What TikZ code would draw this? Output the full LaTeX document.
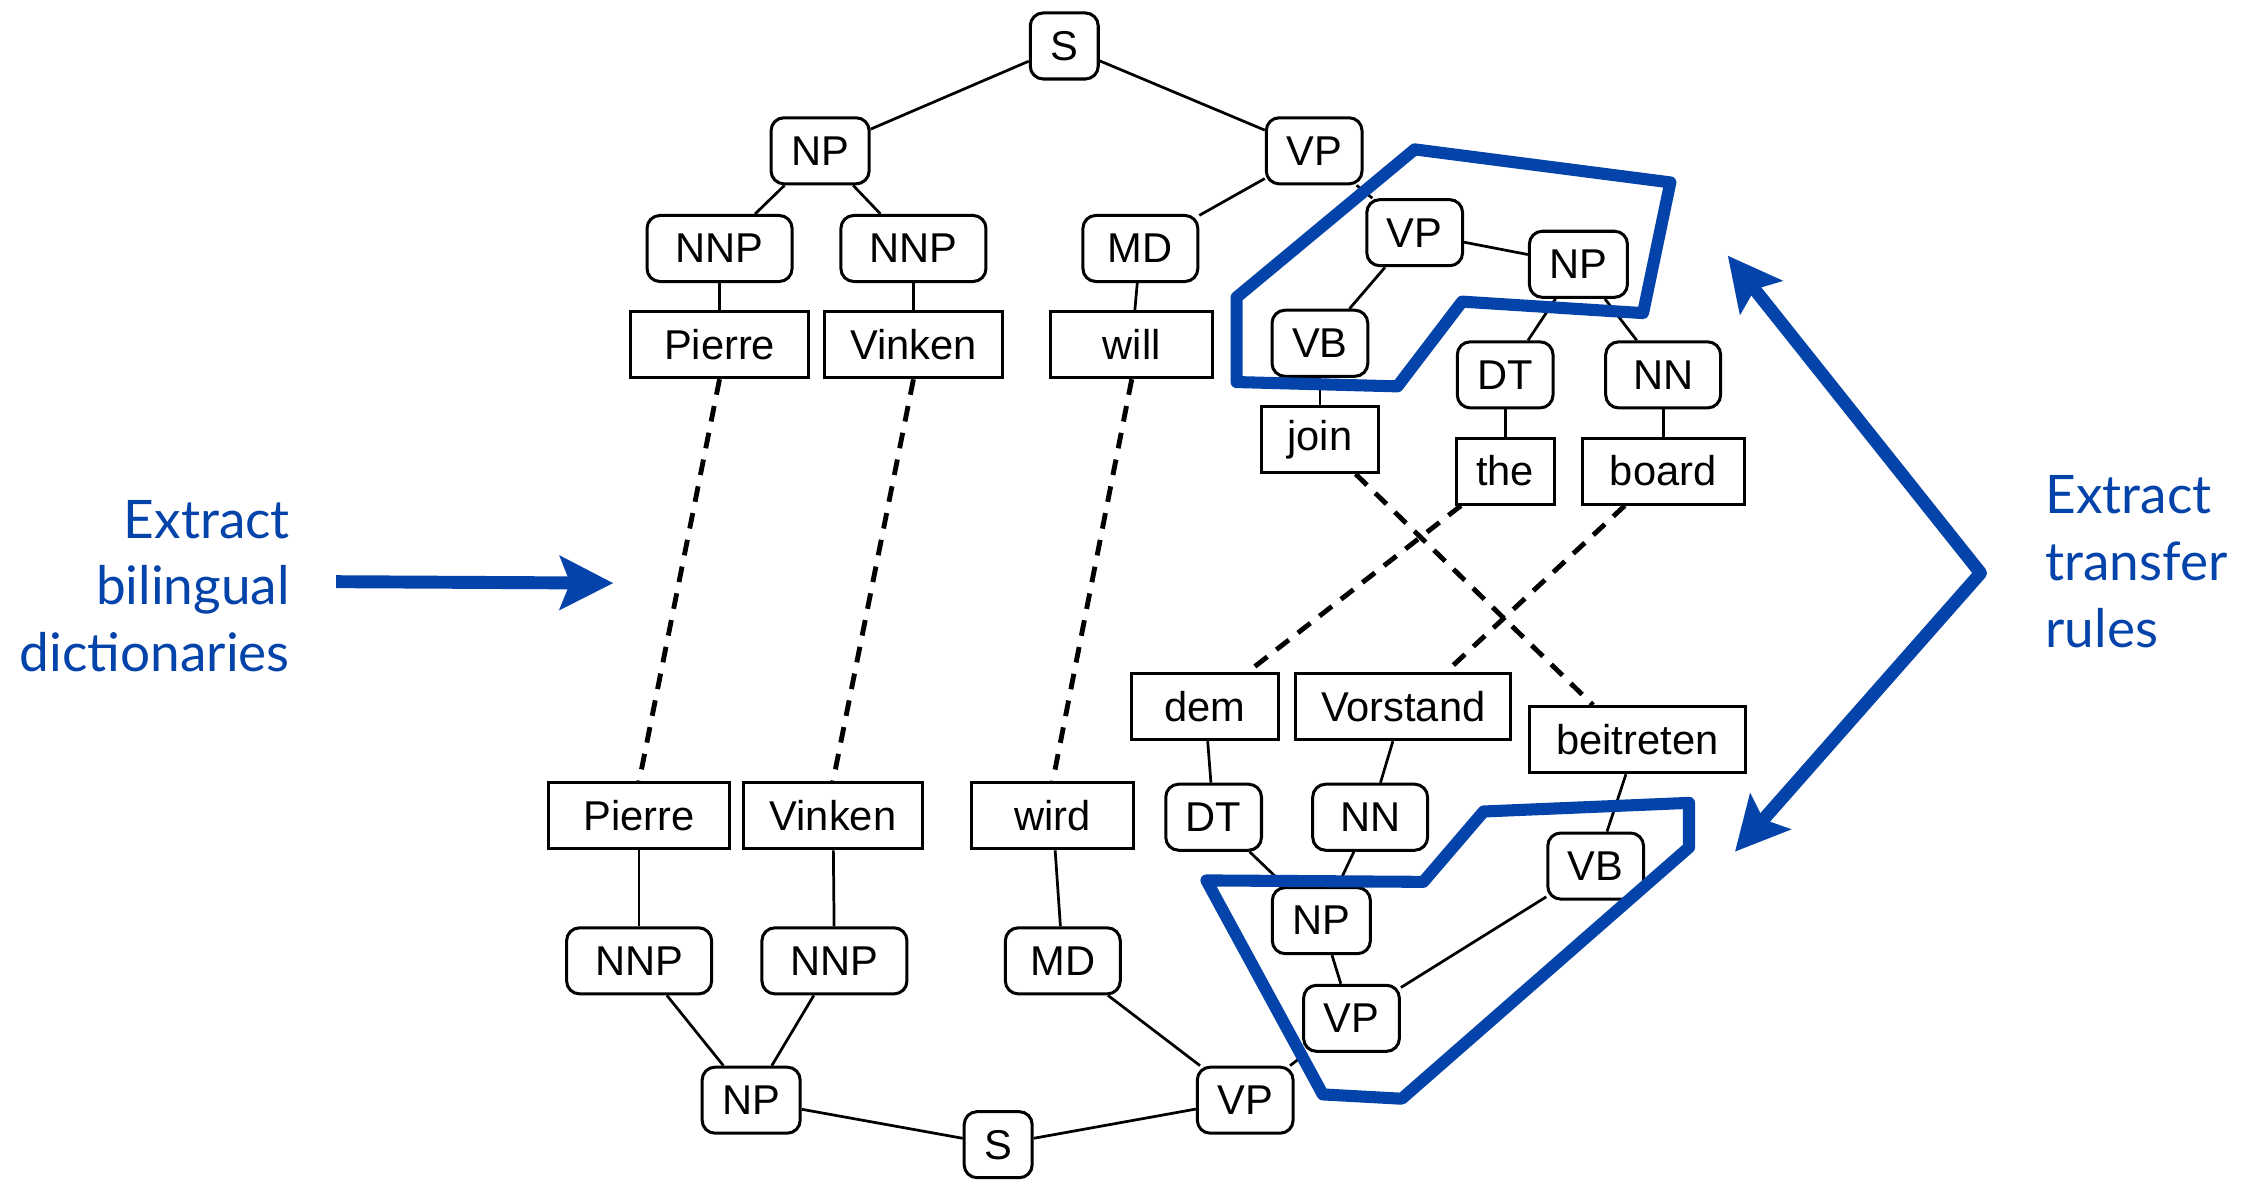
\documentclass[tikz,border=0pt]{standalone}
\usepackage{fontspec}
\setmainfont{Liberation Sans}
\newfontfamily\notefont{Lato}
\usetikzlibrary{arrows.meta}
\definecolor{ruleblue}{RGB}{3,67,170}

\tikzset{
  tag/.style={draw, rounded corners=9pt, line width=2.1pt, minimum height=46pt,
    inner xsep=14pt, font=\fontsize{29pt}{35pt}\selectfont},
  word/.style={draw, line width=2.1pt, minimum height=46pt, inner xsep=6pt,
    font=\fontsize{29pt}{35pt}\selectfont},
  branch/.style={line width=1.9pt},
  link/.style={line width=3.4pt, dash pattern=on 11pt off 8pt},
  hull/.style={ruleblue, line width=8.4pt, line join=round},
  extract/.style={ruleblue, line width=9pt, line join=round},
  note/.style={text=ruleblue, inner sep=0pt, font=\notefont\fontsize{37pt}{46.5pt}\selectfont},
  tip/.tip={Stealth[length=37pt, width=37pt, inset=7pt]},
}

\begin{document}
\begin{tikzpicture}[x=1pt, y=-1pt]
\useasboundingbox (0,0) rectangle (1568,823);

% English tree
\node[tag] (en-s) at (741,32) {S};
\node[tag] (en-np) at (571,105) {NP};
\node[tag] (en-vp) at (915,105) {VP};
\node[tag, minimum width=101pt] (en-nnp1) at (501,173) {NNP};
\node[tag, minimum width=101pt] (en-nnp2) at (636,173) {NNP};
\node[tag, minimum width=80pt] (en-md) at (794,173) {MD};
\node[tag] (en-vp2) at (985,162) {VP};
\node[tag] (en-np2) at (1099,184) {NP};
\node[tag] (en-vb) at (919,239) {VB};
\node[tag] (en-dt) at (1048,261) {DT};
\node[tag, minimum width=80pt] (en-nn) at (1158,261) {NN};
\node[word, minimum width=124pt] (en-pierre) at (501,240) {Pierre};
\node[word, minimum width=124pt] (en-vinken) at (636,240) {Vinken};
\node[word, minimum width=113pt] (en-will) at (788,240) {will};
\node[word, minimum width=81pt] (en-join) at (919,306) {join};
\node[word, minimum width=68pt] (en-the) at (1048,328) {the};
\node[word, minimum width=113pt] (en-board) at (1158,328) {board};

% German tree
\node[word, minimum width=102pt] (de-dem) at (839,492) {dem};
\node[word, minimum width=150pt] (de-vorstand) at (977,492) {Vorstand};
\node[word, minimum width=150pt] (de-beitreten) at (1140,515) {beitreten};
\node[word, minimum width=126pt] (de-pierre) at (445,568) {Pierre};
\node[word, minimum width=125pt] (de-vinken) at (580,568) {Vinken};
\node[word, minimum width=113pt] (de-wird) at (733,568) {wird};
\node[tag] (de-dt) at (845,569) {DT};
\node[tag, minimum width=80pt] (de-nn) at (954,569) {NN};
\node[tag] (de-vb) at (1111,603) {VB};
\node[tag] (de-np2) at (920,641) {NP};
\node[tag, minimum width=101pt] (de-nnp1) at (445,669) {NNP};
\node[tag, minimum width=101pt] (de-nnp2) at (581,669) {NNP};
\node[tag, minimum width=80pt] (de-md) at (740,669) {MD};
\node[tag] (de-vp2) at (941,709) {VP};
\node[tag] (de-np) at (523,766) {NP};
\node[tag] (de-vp) at (867,766) {VP};
\node[tag] (de-s) at (695,797) {S};

\foreach \a/\b in {en-s/en-np, en-s/en-vp, en-np/en-nnp1, en-np/en-nnp2,
    en-nnp1/en-pierre, en-nnp2/en-vinken, en-vp/en-md, en-md/en-will,
    en-vp/en-vp2, en-vp2/en-np2, en-vp2/en-vb, en-vb/en-join,
    en-np2/en-dt, en-np2/en-nn, en-dt/en-the, en-nn/en-board}
  \draw[branch] (\a) -- (\b);

\foreach \a/\b in {de-s/de-np, de-s/de-vp, de-np/de-nnp1, de-np/de-nnp2,
    de-nnp1/de-pierre, de-nnp2/de-vinken, de-vp/de-md, de-md/de-wird,
    de-vp/de-vp2, de-vp2/de-np2, de-vp2/de-vb, de-vb/de-beitreten,
    de-np2/de-dt, de-np2/de-nn, de-dt/de-dem, de-nn/de-vorstand}
  \draw[branch] (\a) -- (\b);

% word alignment
\draw[link] (en-pierre.south) -- (de-pierre.north);
\draw[link] (en-vinken.south) -- (de-vinken.north);
\draw[link] (en-will.south) -- (de-wird.north);
\draw[link] (en-join.-44) -- (de-beitreten.142);
\draw[link] (en-the.-142) -- (de-dem.39);
\draw[link] (en-board.-138) -- (de-vorstand.39);

% extracted rule fragments
\draw[hull] (985,104) -- (1163,127) -- (1144,218) -- (1018,210) -- (973,269)
  -- (861,266) -- (861,207) -- cycle;
\draw[hull] (840,613) -- (991,614) -- (1033,565) -- (1176,559) -- (1176,590)
  -- (976,765) -- (921,762) -- cycle;

\node[note, align=right, anchor=east] (dict-label) at (202,408) {Extract\\bilingual\\dictionaries};
\node[note, align=left, anchor=west] (rule-label) at (1424,391) {Extract\\transfer\\rules};

\coordinate (dict-tail) at (234,405);
\coordinate (dict-head) at (427,406);
\draw[extract, -{tip}] (dict-tail) -- (dict-head);

\coordinate (rule-up) at (1203,178);
\coordinate (rule-bend) at (1379,399);
\coordinate (rule-down) at (1208,593);
\draw[extract, {tip}-{tip}] (rule-up) -- (rule-bend) -- (rule-down);

\end{tikzpicture}
\end{document}
